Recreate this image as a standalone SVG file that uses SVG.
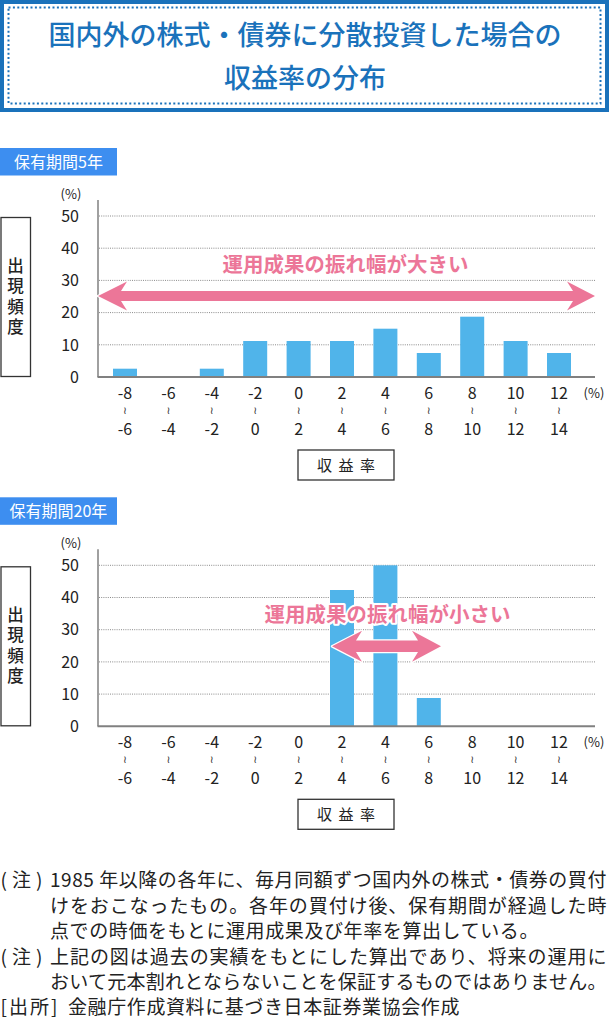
<svg xmlns="http://www.w3.org/2000/svg" width="609" height="1024" viewBox="0 0 609 1024">
<style>
text{font-family:"Noto Sans CJK JP","Noto Sans",sans-serif;}
.title{font-size:27px;font-weight:500;fill:#1a72bb;text-anchor:middle;}
.tag{font-size:16px;fill:#fff;text-anchor:middle;}
.ylab{font-size:16px;fill:#222;text-anchor:end;}
.pct{font-size:13px;fill:#222;text-anchor:middle;}
.xlab{font-size:16px;fill:#222;text-anchor:middle;}
.tl{font-family:"DejaVu Sans",sans-serif;font-size:10.5px;fill:#333;}
.vlab{font-size:16.5px;font-weight:500;fill:#222;text-anchor:middle;writing-mode:vertical-rl;letter-spacing:4px;}
.grid{stroke:#8a8a8a;stroke-width:1;stroke-dasharray:1 1.2;fill:none;}
.axis{stroke:#808080;stroke-width:1.5;fill:none;}
.base{stroke:#808080;stroke-width:2;fill:none;}
.bar{fill:#50b4ea;}
.arrow{fill:#ec7698;stroke:#fff;stroke-width:2.5;stroke-linejoin:round;paint-order:stroke;}
.msg{font-size:20.5px;font-weight:700;fill:#ec7698;stroke:#fff;stroke-width:4;stroke-linejoin:round;paint-order:stroke;}
.box{fill:#fff;stroke:#333;stroke-width:1.3;}
.note{font-size:19px;fill:#222;letter-spacing:0.6px;}
.lead{font-size:19px;fill:#222;letter-spacing:5px;}
.src{font-size:19px;fill:#222;letter-spacing:2px;}
</style>

<g id="title">
<rect x="2" y="2" width="605" height="108" fill="#fff" stroke="#1a72bb" stroke-width="4"/>
<rect x="8.5" y="7.5" width="592" height="96" fill="none" stroke="#1a72bb" stroke-width="2" stroke-dasharray="2 2.4"/>
<text class="title" x="305" y="44.5">国内外の株式・債券に分散投資した場合の</text>
<text class="title" x="305" y="87.5">収益率の分布</text>
</g>

<g id="chart5">
<g id="tag5"><rect x="0" y="148" width="117" height="27.5" fill="#3d8ef0"/><text class="tag" x="58.5" y="167.5">保有期間5年</text></g>
<g id="yaxis5">
<rect class="box" x="1" y="217.5" width="29.5" height="159"/>
<text class="vlab" x="15.5" y="298">出現頻度</text>
<text class="pct" x="71" y="198.5">(%)</text>
<text class="ylab" x="79" y="221.7">50</text>
<text class="ylab" x="79" y="253.9">40</text>
<text class="ylab" x="79" y="286.1">30</text>
<text class="ylab" x="79" y="318.3">20</text>
<text class="ylab" x="79" y="350.5">10</text>
<text class="ylab" x="79" y="382.7">0</text>
</g>
<g id="grid5">
<line class="grid" x1="99" y1="216" x2="595" y2="216"/>
<line class="grid" x1="99" y1="248.2" x2="595" y2="248.2"/>
<line class="grid" x1="99" y1="280.4" x2="595" y2="280.4"/>
<line class="grid" x1="99" y1="312.6" x2="595" y2="312.6"/>
<line class="grid" x1="99" y1="344.8" x2="595" y2="344.8"/>
</g>
<g id="bars5">
<rect class="bar" x="113" y="368.7" width="24" height="8.3"/>
<rect class="bar" x="199.8" y="368.7" width="24" height="8.3"/>
<rect class="bar" x="243.2" y="341" width="24" height="36"/>
<rect class="bar" x="286.6" y="341" width="24" height="36"/>
<rect class="bar" x="330" y="341" width="24" height="36"/>
<rect class="bar" x="373.4" y="328.7" width="24" height="48.3"/>
<rect class="bar" x="416.8" y="353" width="24" height="24"/>
<rect class="bar" x="460.2" y="316.7" width="24" height="60.3"/>
<rect class="bar" x="503.6" y="341" width="24" height="36"/>
<rect class="bar" x="547" y="353" width="24" height="24"/>
</g>
<line class="axis" x1="98" y1="200" x2="98" y2="377"/>
<line class="base" x1="97.5" y1="377" x2="595" y2="377"/>
<g id="xlabels5">
<text class="xlab"><tspan x="125" y="399.2">-8</tspan><tspan class="tl" x="125" y="413.8">≀</tspan><tspan x="125" y="434.9">-6</tspan></text>
<text class="xlab"><tspan x="168.4" y="399.2">-6</tspan><tspan class="tl" x="168.4" y="413.8">≀</tspan><tspan x="168.4" y="434.9">-4</tspan></text>
<text class="xlab"><tspan x="211.8" y="399.2">-4</tspan><tspan class="tl" x="211.8" y="413.8">≀</tspan><tspan x="211.8" y="434.9">-2</tspan></text>
<text class="xlab"><tspan x="255.2" y="399.2">-2</tspan><tspan class="tl" x="255.2" y="413.8">≀</tspan><tspan x="255.2" y="434.9">0</tspan></text>
<text class="xlab"><tspan x="298.6" y="399.2">0</tspan><tspan class="tl" x="298.6" y="413.8">≀</tspan><tspan x="298.6" y="434.9">2</tspan></text>
<text class="xlab"><tspan x="342" y="399.2">2</tspan><tspan class="tl" x="342" y="413.8">≀</tspan><tspan x="342" y="434.9">4</tspan></text>
<text class="xlab"><tspan x="385.4" y="399.2">4</tspan><tspan class="tl" x="385.4" y="413.8">≀</tspan><tspan x="385.4" y="434.9">6</tspan></text>
<text class="xlab"><tspan x="428.8" y="399.2">6</tspan><tspan class="tl" x="428.8" y="413.8">≀</tspan><tspan x="428.8" y="434.9">8</tspan></text>
<text class="xlab"><tspan x="472.2" y="399.2">8</tspan><tspan class="tl" x="472.2" y="413.8">≀</tspan><tspan x="472.2" y="434.9">10</tspan></text>
<text class="xlab"><tspan x="515.6" y="399.2">10</tspan><tspan class="tl" x="515.6" y="413.8">≀</tspan><tspan x="515.6" y="434.9">12</tspan></text>
<text class="xlab"><tspan x="559" y="399.2">12</tspan><tspan class="tl" x="559" y="413.8">≀</tspan><tspan x="559" y="434.9">14</tspan></text>
<text class="pct" x="594" y="398">(%)</text>
</g>
<g id="xtitle5"><rect class="box" x="298" y="450" width="96" height="30"/><text x="346" y="470.5" font-size="15" fill="#222" text-anchor="middle" textLength="58" lengthAdjust="spacing">収 益 率</text></g>
<g id="arrow5">
<polygon class="arrow" points="98,296 127,281.5 121,291 573,291 567,281.5 595,296 567,310.5 573,301 121,301 127,310.5"/>
<text class="msg" x="222.5" y="272" textLength="246" lengthAdjust="spacing">運用成果の振れ幅が大きい</text>
</g>
</g>

<g id="chart20" transform="translate(0,349.3)">
<g id="tag20"><rect x="0" y="148" width="117" height="27.5" fill="#3d8ef0"/><text class="tag" x="58.5" y="167.5">保有期間20年</text></g>
<g id="yaxis20">
<rect class="box" x="1" y="217.5" width="29.5" height="159"/>
<text class="vlab" x="15.5" y="298">出現頻度</text>
<text class="pct" x="71" y="198.5">(%)</text>
<text class="ylab" x="79" y="221.7">50</text>
<text class="ylab" x="79" y="253.9">40</text>
<text class="ylab" x="79" y="286.1">30</text>
<text class="ylab" x="79" y="318.3">20</text>
<text class="ylab" x="79" y="350.5">10</text>
<text class="ylab" x="79" y="382.7">0</text>
</g>
<g id="grid20">
<line class="grid" x1="99" y1="216" x2="595" y2="216"/>
<line class="grid" x1="99" y1="248.2" x2="595" y2="248.2"/>
<line class="grid" x1="99" y1="280.4" x2="595" y2="280.4"/>
<line class="grid" x1="99" y1="312.6" x2="595" y2="312.6"/>
<line class="grid" x1="99" y1="344.8" x2="595" y2="344.8"/>
</g>
<g id="bars20">
<rect class="bar" x="330" y="240.7" width="24" height="136.3"/>
<rect class="bar" x="373.4" y="216" width="24" height="161"/>
<rect class="bar" x="416.8" y="348.7" width="24" height="28.3"/>
</g>
<line class="axis" x1="98" y1="200" x2="98" y2="377"/>
<line class="base" x1="97.5" y1="377" x2="595" y2="377"/>
<g id="xlabels20">
<text class="xlab"><tspan x="125" y="399.2">-8</tspan><tspan class="tl" x="125" y="413.8">≀</tspan><tspan x="125" y="434.9">-6</tspan></text>
<text class="xlab"><tspan x="168.4" y="399.2">-6</tspan><tspan class="tl" x="168.4" y="413.8">≀</tspan><tspan x="168.4" y="434.9">-4</tspan></text>
<text class="xlab"><tspan x="211.8" y="399.2">-4</tspan><tspan class="tl" x="211.8" y="413.8">≀</tspan><tspan x="211.8" y="434.9">-2</tspan></text>
<text class="xlab"><tspan x="255.2" y="399.2">-2</tspan><tspan class="tl" x="255.2" y="413.8">≀</tspan><tspan x="255.2" y="434.9">0</tspan></text>
<text class="xlab"><tspan x="298.6" y="399.2">0</tspan><tspan class="tl" x="298.6" y="413.8">≀</tspan><tspan x="298.6" y="434.9">2</tspan></text>
<text class="xlab"><tspan x="342" y="399.2">2</tspan><tspan class="tl" x="342" y="413.8">≀</tspan><tspan x="342" y="434.9">4</tspan></text>
<text class="xlab"><tspan x="385.4" y="399.2">4</tspan><tspan class="tl" x="385.4" y="413.8">≀</tspan><tspan x="385.4" y="434.9">6</tspan></text>
<text class="xlab"><tspan x="428.8" y="399.2">6</tspan><tspan class="tl" x="428.8" y="413.8">≀</tspan><tspan x="428.8" y="434.9">8</tspan></text>
<text class="xlab"><tspan x="472.2" y="399.2">8</tspan><tspan class="tl" x="472.2" y="413.8">≀</tspan><tspan x="472.2" y="434.9">10</tspan></text>
<text class="xlab"><tspan x="515.6" y="399.2">10</tspan><tspan class="tl" x="515.6" y="413.8">≀</tspan><tspan x="515.6" y="434.9">12</tspan></text>
<text class="xlab"><tspan x="559" y="399.2">12</tspan><tspan class="tl" x="559" y="413.8">≀</tspan><tspan x="559" y="434.9">14</tspan></text>
<text class="pct" x="594" y="398">(%)</text>
</g>
<g id="xtitle20"><rect class="box" x="298" y="450" width="96" height="30"/><text x="346" y="470.5" font-size="15" fill="#222" text-anchor="middle" textLength="58" lengthAdjust="spacing">収 益 率</text></g>
<g id="arrow20">
<polygon class="arrow" points="332,297 362,281.5 356,291.3 418,291.3 412,281.5 441,297 412,312.5 418,302.7 356,302.7 362,312.5"/>
<text class="msg" x="264.5" y="272.5" textLength="246" lengthAdjust="spacing">運用成果の振れ幅が小さい</text>
</g>
</g>

<g id="notes">
<text class="lead" x="0.5" y="887">(注)</text>
<text class="note" x="50" y="887" textLength="557" lengthAdjust="spacing">1985 年以降の各年に、毎月同額ずつ国内外の株式・債券の買付</text>
<text class="note" x="50" y="912.5" textLength="557" lengthAdjust="spacing">けをおこなったもの。各年の買付け後、保有期間が経過した時</text>
<text class="note" x="50" y="938">点での時価をもとに運用成果及び年率を算出している。</text>
<text class="lead" x="0.5" y="963.5">(注)</text>
<text class="note" x="50" y="963.5" textLength="557" lengthAdjust="spacing">上記の図は過去の実績をもとにした算出であり、将来の運用に</text>
<text class="note" x="50" y="989" textLength="557" lengthAdjust="spacing">おいて元本割れとならないことを保証するものではありません。</text>
<text class="src" x="0.5" y="1014">[出所]</text>
<text class="note" x="68" y="1014">金融庁作成資料に基づき日本証券業協会作成</text>
</g>
</svg>
